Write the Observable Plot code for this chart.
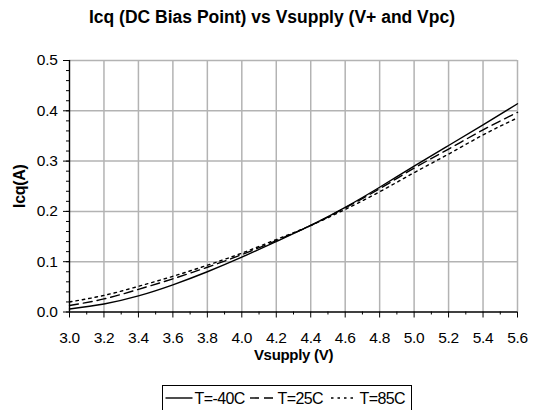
<!DOCTYPE html>
<html><head><meta charset="utf-8">
<script src="https://cdn.jsdelivr.net/npm/d3@7"></script>
<script src="https://cdn.jsdelivr.net/npm/@observablehq/plot@0.6"></script>
<style>
body{margin:0;background:#fff;}
#wrap{position:relative;width:533px;height:410px;font-family:"Liberation Sans",Arial,sans-serif;overflow:hidden;}
#chart{position:absolute;left:0;top:0;}
#overlay{position:absolute;left:0;top:0;pointer-events:none;}
svg text{fill:#000;}
#chart [aria-label="x-axis tick label"] text,#chart [aria-label="y-axis tick label"] text{letter-spacing:-0.3px;}
#chart [aria-label="x-axis label"] text,#chart [aria-label="y-axis label"] text{font-weight:bold;letter-spacing:-0.3px;}
</style>
</head><body>
<div id="wrap">
<div id="chart"></div>
<svg id="overlay" width="533" height="410"></svg>
</div>
<script>
const titleText = "Icq (DC Bias Point) vs Vsupply (V+ and Vpc)";
const voltage = [3.0,3.2,3.4,3.6,3.8,4.0,4.2,4.4,4.6,4.8,5.0,5.2,5.4,5.6];
const tMinus40 = [0.006,0.016,0.032,0.054,0.080,0.109,0.140,0.172,0.208,0.248,0.290,0.331,0.372,0.414];
const t25 = [0.013,0.026,0.045,0.066,0.089,0.114,0.142,0.172,0.207,0.245,0.286,0.324,0.362,0.397];
const t85 = [0.020,0.033,0.051,0.071,0.093,0.117,0.144,0.172,0.204,0.239,0.277,0.314,0.352,0.386];
const seriesNames = ["T=-40C","T=25C","T=85C"];
const seriesDash = ["none","9,5","2.5,4"];
const xTicks = [3.0,3.2,3.4,3.6,3.8,4.0,4.2,4.4,4.6,4.8,5.0,5.2,5.4,5.6];
const xMinor = [3.1,3.3,3.5,3.7,3.9,4.1,4.3,4.5,4.7,4.9,5.1,5.3,5.5];
const yTicks = [0,0.1,0.2,0.3,0.4,0.5];
const yMinor = d3.range(0,0.5001,0.02).map(v=>+v.toFixed(2));

const allSeries = [tMinus40,t25,t85];
const rows = [];
allSeries.forEach((vals,i)=>vals.forEach((v,j)=>rows.push({x:voltage[j],y:v,s:seriesNames[i]})));

const FONT = '"Liberation Sans",Arial,sans-serif';
const grid = {stroke:"#b3b3b3",strokeWidth:1.5,strokeOpacity:1};
const chart = Plot.plot({
  width:533,height:410,
  marginLeft:69,marginRight:16,marginTop:60,marginBottom:98.5,
  style:{fontFamily:FONT,fontSize:"15.5px",color:"#000",background:"transparent"},
  x:{domain:[3.0,5.6]},
  y:{domain:[0,0.5]},
  marks:[
    Plot.ruleX(xTicks.slice(1),{...grid}),
    Plot.ruleY(yTicks.slice(1),{...grid}),
    ...seriesNames.map((name,i)=>Plot.line(rows.filter(r=>r.s===name),{x:"x",y:"y",stroke:"#000",strokeWidth:1.4,strokeDasharray:seriesDash[i]==="none"?null:seriesDash[i],curve:"natural"})),
    Plot.ruleX([3.0],{stroke:"#000",strokeWidth:1.4}),
    Plot.ruleY([0],{stroke:"#000",strokeWidth:1.4}),
    Plot.axisX({ticks:xTicks,tickSize:6,tickFormat:d3.format(".1f"),tickPadding:14,label:"Vsupply (V)",labelAnchor:"center",labelArrow:false,labelOffset:48,fontSize:15.5}),
    Plot.axisX({ticks:xMinor,tickSize:3,text:null,label:null}),
    Plot.axisY({ticks:yTicks,tickSize:6,tickFormat:d3.format(".1f"),tickPadding:6,label:"Icq(A)",labelAnchor:"center",labelArrow:false,labelOffset:56,fontSize:15.5}),
    Plot.axisY({ticks:yMinor,tickSize:3,text:null,label:null})
  ]
});
document.getElementById("chart").appendChild(chart);
d3.select(chart).selectAll('[aria-label="x-axis label"] text').attr("font-size",15);
d3.select(chart).selectAll('[aria-label="y-axis label"] text').attr("font-size",16);

// title and legend
const ov = d3.select("#overlay");
ov.append("text").attr("x",272).attr("y",23).attr("text-anchor","middle")
  .attr("font-size",17.5).attr("font-weight","bold").style("font-family",FONT).text(titleText);

ov.append("rect").attr("x",162.5).attr("y",385.5).attr("width",249).attr("height",40)
  .attr("fill","#fff").attr("stroke","#000").attr("stroke-width",1);
const items = [{x0:165.5,x1:192.5,tx:194.5},{x0:250,x1:274.5,tx:277.5},{x0:331,x1:356.5,tx:359.5}];
items.forEach((it,i)=>{
  ov.append("line").attr("x1",it.x0).attr("x2",it.x1).attr("y1",398).attr("y2",398)
    .attr("stroke","#000").attr("stroke-width",1.4).attr("stroke-dasharray",seriesDash[i]==="none"?null:seriesDash[i]);
  ov.append("text").attr("x",it.tx).attr("y",404).attr("font-size",16).attr("letter-spacing",-0.6)
    .style("font-family",FONT).text(seriesNames[i]);
});
</script>
</body></html>
